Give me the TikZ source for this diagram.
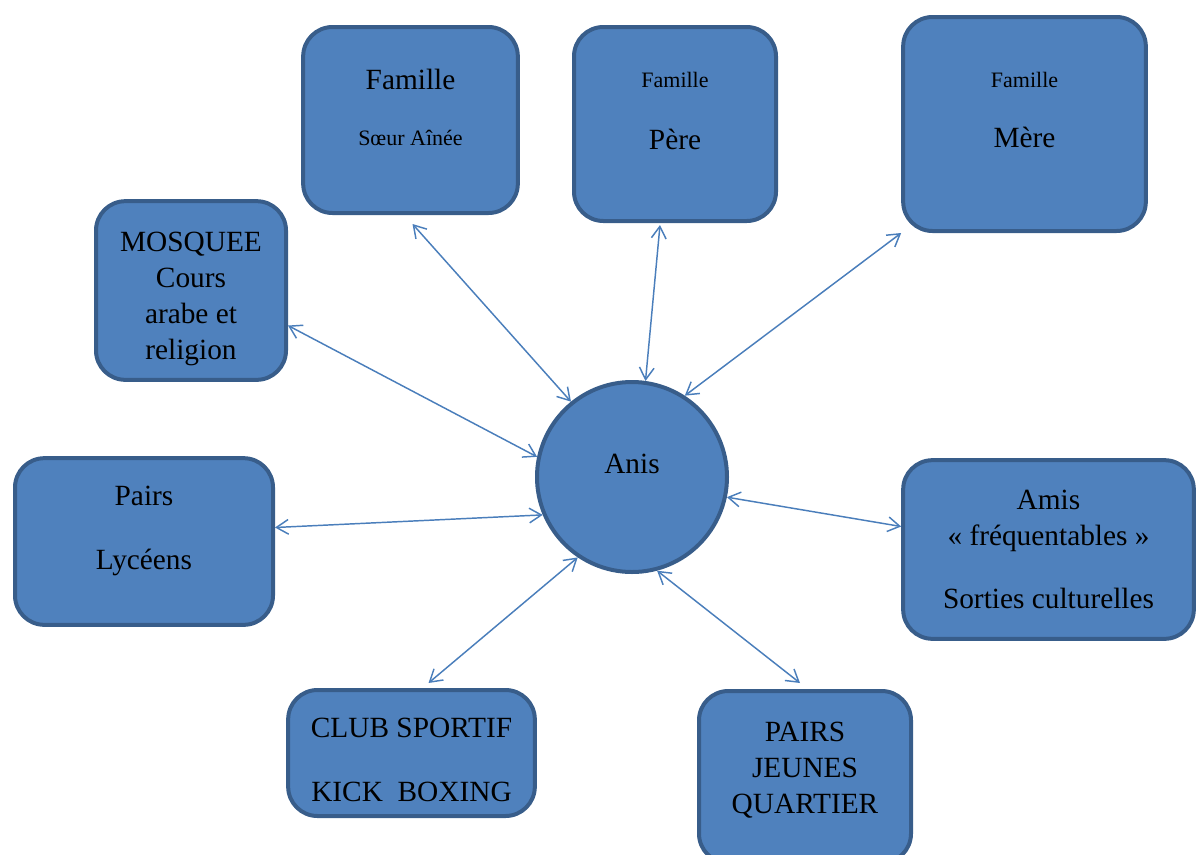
\documentclass[tikz,border=0pt]{standalone}
\usepackage{fontspec}
\setmainfont{Liberation Serif}
\usepackage{tikz}
\usetikzlibrary{positioning,calc,arrows.meta}

\definecolor{boxfill}{HTML}{4F81BD}
\definecolor{boxline}{HTML}{385D8A}
\definecolor{linkline}{HTML}{4A7EBB}
\newcommand{\bigtxt}{\fontsize{22}{27}\selectfont}
\newcommand{\smalltxt}{\fontsize{16.5}{20}\selectfont}

\tikzset{
  bubble/.style={rectangle, rounded corners=22pt, draw=boxline, fill=boxfill, line width=3pt, align=center, font=\bigtxt, inner sep=0pt},
  hub/.style={circle, draw=boxline, fill=boxfill, line width=3pt, font=\bigtxt, minimum size=142.5pt, inner sep=0pt},
  link/.style={linkline, line width=1.1pt, {Straight Barb[length=9pt,width=11pt]}-{Straight Barb[length=9pt,width=11pt]}},
}

\begin{document}
\begin{tikzpicture}[x=0.75pt, y=-0.75pt]
    \useasboundingbox (0,0) rectangle (1196,854);
    % centre
    \node (anis) [hub, text depth=19.5pt] at (632,477) {Anis};
    % family on top
    \node (soeur) [bubble, minimum width=161pt, minimum height=139.5pt, text depth=19pt] at (410.5,120) {Famille\\[15pt]{\smalltxt Sœur Aînée}};
    \node (pere) [bubble, minimum width=151.5pt, minimum height=145.5pt, text depth=19pt] at (675,124) {{\smalltxt Famille}\\[19.5pt]Père};
    \node (mere) [bubble, minimum width=182pt, minimum height=160.5pt, text depth=21.5pt] at (1024.5,124) {{\smalltxt Famille}\\[18pt]Mère};
    % left side
    \node (mosquee) [bubble, minimum width=142.5pt, minimum height=134pt, text height=103pt, text depth=0pt] at (191,290.5) {MOSQUEE\\Cours\\arabe et\\religion};
    \node (lyceens) [bubble, minimum width=193.5pt, minimum height=125pt, text depth=21pt] at (144,541.5) {Pairs\\[21pt]Lycéens};
    % right side
    \node (amis) [bubble, minimum width=218pt, minimum height=134pt] at (1048.5,549.5) {Amis\\«~fréquentables~»\\[20pt]Sorties culturelles};
    % bottom
    \node (club) [bubble, minimum width=185pt, minimum height=94.5pt, text height=72pt, text depth=0pt] at (411.5,753) {CLUB SPORTIF\\[21pt]KICK~~BOXING};
    \node (quartier) [bubble, minimum width=159pt, minimum height=129pt, text depth=14pt] at (805,777) {PAIRS\\JEUNES\\QUARTIER};

    % links
    \draw[link] ($(soeur.south)+(2,9)$) -- (anis.129);
    \draw[link] ($(pere.south)+(-15,2)$) -- (anis.82);
    \draw[link] (mere.south west) -- (anis.57);
    \draw[link] ($(mosquee.east)+(0,35)$) -- (anis.168);
    \draw[link] ($(lyceens.east)+(0,-14)$) -- (anis.203);
    \draw[link] (anis.348) -- ($(amis.west)+(0,-23)$);
    \draw[link] ($(club.north)+(17,-5)$) -- (anis.236);
    \draw[link] (anis.285) -- ($(quartier.north)+(-5,-6)$);
\end{tikzpicture}
\end{document}
